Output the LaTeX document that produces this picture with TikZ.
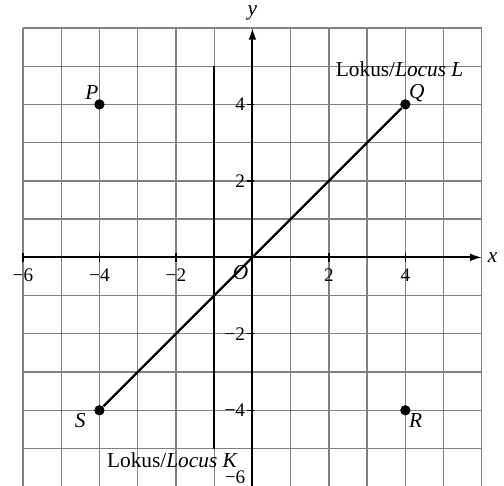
\documentclass[tikz,border=0pt]{standalone}
\usepackage{fontspec}
\setmainfont{Liberation Serif}
\usetikzlibrary{arrows.meta}
\definecolor{gridgray}{RGB}{128,128,128}

\begin{document}
\begin{tikzpicture}[
    x=0.63cm, y=0.63cm,
    gridline/.style={draw=gridgray, line width=0.6pt},
    axis/.style={-{Latex[length=5.5pt,width=3.6pt]}, line width=0.9pt},
    locus/.style={line width=1.1pt},
    pt/.style={circle, fill, inner sep=0pt, minimum size=1.7mm},
    ticklbl/.style={font=\small, inner sep=1pt},
    lbl/.style={font=\itshape, inner sep=1pt}
  ]
  \useasboundingbox (-6.6,-5.97) rectangle (6.58,6.73);
  \clip (-6.6,-5.97) rectangle (6.58,6.73);
  % grid
  \draw[gridline, step=1] (-6,-6) grid (6,6);
  % axes
  \coordinate (xl) at (-6,0);
  \coordinate (xr) at (6,0);
  \coordinate (yb) at (0,-6);
  \coordinate (yt) at (0,6);
  \draw[axis] (xl) -- (xr);
  \draw[axis] (yb) -- (yt);
  \node[lbl] (xlab) at (6.28,0) {x};
  \node[lbl] (ylab) at (0,6.4) {y};
  \foreach \i in {-6,-4,-2,2,4}
    \draw[line width=0.6pt] (\i,0.12) -- (\i,-0.12) node[ticklbl] at (\i,-0.47) {\ifnum\i<0 −\fi\the\numexpr\ifnum\i<0 -\fi\i\relax};
  \foreach \j in {-4,-2,2,4}
    \draw[line width=0.6pt] (-0.13,\j) -- (0.05,\j) node[ticklbl, anchor=east] at (-0.12,\j) {\ifnum\j<0 −\fi\the\numexpr\ifnum\j<0 -\fi\j\relax};
  \node[ticklbl, anchor=east] (ysix) at (-0.12,-5.75) {−6};
  \node[lbl] (orig) at (-0.31,-0.39) {O};
  % points
  \node[pt] (P) at (-4,4) {};
  \node[pt] (Q) at (4,4) {};
  \node[pt] (R) at (4,-4) {};
  \node[pt] (S) at (-4,-4) {};
  \node[lbl] (Plab) at (-4.2,4.3) {P};
  \node[lbl] (Qlab) at (4.3,4.3) {Q};
  \node[lbl] (Rlab) at (4.27,-4.27) {R};
  \node[lbl] (Slab) at (-4.5,-4.27) {S};
  % loci
  \coordinate (Ktop) at (-1,5);
  \coordinate (Kbot) at (-1,-5);
  \draw[locus] (Ktop) -- (Kbot);
  \draw[locus] (S) -- (Q);
  \node[inner sep=1pt] (Llab) at (3.85,4.92) {Lokus/\textit{Locus L}};
  \node[inner sep=1pt] (Klab) at (-2.09,-5.31) {Lokus/\textit{Locus K}};
\end{tikzpicture}
\end{document}
